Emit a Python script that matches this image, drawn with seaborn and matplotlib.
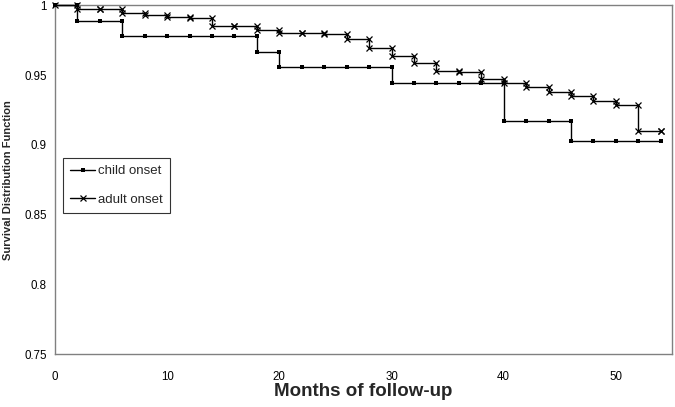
import numpy as np
import pandas as pd
import matplotlib
matplotlib.use('Agg')
import matplotlib.pyplot as plt
import seaborn as sns

# Survival estimates, every 2 months
months = [0, 2, 4, 6, 8, 10, 12, 14, 16, 18, 20, 22, 24, 26,
          28, 30, 32, 34, 36, 38, 40, 42, 44, 46, 48, 50, 52, 54]
child_onset = [1.0, 0.9889, 0.9889, 0.9783, 0.9783, 0.9783, 0.9783, 0.9783,
               0.9783, 0.9669, 0.9557, 0.9557, 0.9557, 0.9557, 0.9557, 0.9442,
               0.9442, 0.9442, 0.9442, 0.9442, 0.9171, 0.9171, 0.9171, 0.9030,
               0.9030, 0.9030, 0.9030, 0.9030]
adult_onset = [1.0, 0.9975, 0.9972, 0.9948, 0.9932, 0.9920, 0.9908, 0.9853,
               0.9853, 0.9824, 0.9801, 0.9801, 0.9795, 0.9760, 0.9695, 0.9638,
               0.9585, 0.9532, 0.9522, 0.9473, 0.9442, 0.9413, 0.9382, 0.9351,
               0.9317, 0.9286, 0.9100, 0.9100]


def step_points(t, s):
    # Excel-style step: at each time, the value before and after the drop
    xs, ys = [t[0]], [s[0]]
    for i in range(1, len(t)):
        xs += [t[i], t[i]]
        ys += [s[i - 1], s[i]]
    return xs, ys


sns.set_style("white")
plt.rcParams['font.family'] = ['Liberation Sans', 'DejaVu Sans']

fig = plt.figure(figsize=(6.75, 4.07), dpi=100)
ax = fig.add_axes([0.0815, 0.1302, 0.914, 0.8563])

cx, cy = step_points(months, child_onset)
child_df = pd.DataFrame({'x': cx, 'y': cy})
sns.lineplot(data=child_df, x='x', y='y', estimator=None, sort=False, ax=ax,
             color='black', lw=1, marker='s', markersize=3.2,
             markeredgewidth=0, markeredgecolor='black', clip_on=False,
             zorder=5, label='child onset')

adx, ady = step_points(months, adult_onset)
adult_df = pd.DataFrame({'x': adx, 'y': ady})
sns.lineplot(data=adult_df, x='x', y='y', estimator=None, sort=False, ax=ax,
             color='black', lw=1, marker='x', markersize=4.5,
             markeredgewidth=0.9, markeredgecolor='black', clip_on=False,
             zorder=5, label='adult onset')

ax.set_xlim(0, 55)
ax.set_ylim(0.75, 1.0)
ax.set_xticks([0, 10, 20, 30, 40, 50])
ax.set_yticks([0.75, 0.8, 0.85, 0.9, 0.95, 1.0])
ax.set_yticklabels(['0.75', '0.8', '0.85', '0.9', '0.95', '1'])

for sp in ax.spines.values():
    sp.set_color('#808080')
    sp.set_linewidth(1)
ax.tick_params(axis='both', direction='out', length=4, width=1,
               color='#808080', labelsize=8.3, labelcolor='black')
ax.tick_params(axis='x', pad=8)
ax.tick_params(axis='y', pad=2)

ax.set_xlabel('Months of follow-up', fontsize=13.5, fontweight='bold')
ax.xaxis.set_label_coords(0.5, -0.083)
ax.set_ylabel('Survival Distribution Function', fontsize=8, fontweight='bold',
              labelpad=8)

leg = ax.legend(loc='upper left', bbox_to_anchor=(0.013, 0.5624),
                frameon=True, fancybox=False, fontsize=9.5,
                handlelength=1.9, handletextpad=0.2, borderpad=0.55,
                labelspacing=1.2, borderaxespad=0)
leg.get_frame().set_edgecolor('black')
leg.get_frame().set_linewidth(0.8)

fig.savefig('out.png', dpi=100)
